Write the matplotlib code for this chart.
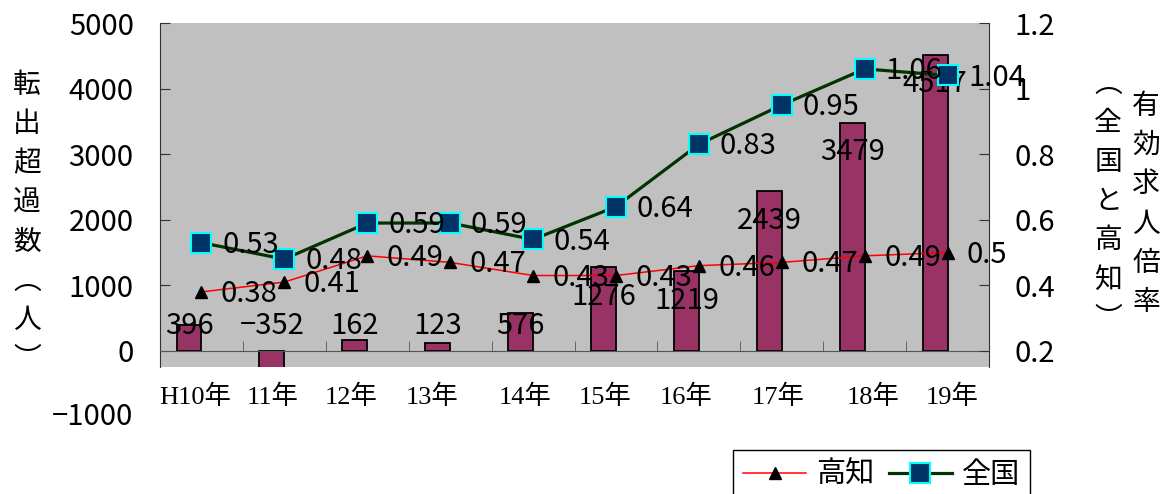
import matplotlib
matplotlib.use('Agg')
import matplotlib.pyplot as plt
import numpy as np

plt.rcParams['font.family'] = ['Noto Sans CJK JP', 'DejaVu Sans']

# data
years = ['H10年', '11年', '12年', '13年', '14年', '15年', '16年', '17年', '18年', '19年']
net_outflow = [396, -352, 162, 123, 576, 1276, 1219, 2439, 3479, 4517]   # 転出超過数（人）
kochi_ratio = [0.38, 0.41, 0.49, 0.47, 0.43, 0.43, 0.46, 0.47, 0.49, 0.5]  # 高知
zenkoku_ratio = [0.53, 0.48, 0.59, 0.59, 0.54, 0.64, 0.83, 0.95, 1.06, 1.04]  # 全国

# small shifts of the year labels (they sit a bit off the category centres)
label_shift = [-0.07, -0.14, -0.19, -0.22, -0.10, -0.13, -0.16, -0.04, 0.10, 0.06]

FS = 21

fig = plt.figure(figsize=(11.64, 4.94), dpi=100)
ax1 = fig.add_axes([160/1164, 1-367/494, 829/1164, 344/494])
ax1.set_facecolor('#c0c0c0')

x = np.arange(len(years))
ax1.bar(x - 0.15, net_outflow, width=0.3, color='#993366', edgecolor='black',
        linewidth=1.3, zorder=2)
ax1.set_xlim(-0.5, len(years) - 0.5)
ax1.set_ylim(-244, 5000)

ax1.spines['top'].set_visible(False)
ax1.spines['right'].set_visible(False)
ax1.spines['bottom'].set_position(('data', 0))
ax1.spines['bottom'].set_color('#555555')
ax1.spines['left'].set_color('#333333')

ax1.set_yticks(range(0, 5001, 1000))
ax1.tick_params(axis='y', direction='in', length=7, pad=19, labelsize=FS, color='#333333')
ax1.set_xticks(x + np.array(label_shift))
ax1.set_xticklabels(years, family=['Liberation Serif', 'Noto Sans CJK JP'], fontsize=19)
ax1.tick_params(axis='x', which='major', length=0, pad=24)
ax1.set_xticks(np.arange(0.5, len(years) - 0.5, 1), minor=True)
ax1.tick_params(axis='x', which='minor', direction='in', length=7, color='#555555')

# the -1000 label sits below the plot area
ax1.text(-27/829, -1000, '−1000', transform=ax1.get_yaxis_transform(),
         ha='right', va='center', fontsize=FS, clip_on=False)

# bar value labels
for i, v in enumerate(net_outflow):
    ax1.text(i - 0.15, max(v - 450, 380), str(v).replace('-', '−'),
             ha='center', va='center', fontsize=FS, zorder=3)

ax2 = ax1.twinx()
ax2.set_ylim(0.151, 1.2)
for s in ['top', 'bottom', 'left']:
    ax2.spines[s].set_visible(False)
ax2.spines['right'].set_color('#333333')
l1, = ax2.plot(x, kochi_ratio, color='red', lw=1.1, marker='^', ms=9,
               mfc='black', mec='black', label='高知')
l2, = ax2.plot(x, zenkoku_ratio, color='#003300', lw=2.3, marker='s', ms=14,
               mfc='#003366', mec='#00ffff', mew=1.5, label='全国')
ax2.set_yticks([0.2, 0.4, 0.6, 0.8, 1.0, 1.2])
ax2.set_yticklabels(['%g' % t for t in [0.2, 0.4, 0.6, 0.8, 1.0, 1.2]])
ax2.tick_params(axis='y', direction='in', length=7, pad=18, labelsize=FS, color='#333333')

for i, v in enumerate(kochi_ratio):
    ax2.annotate('%g' % v, (i, v), xytext=(14, -1.5), textcoords='offset points',
                 ha='left', va='center', fontsize=FS)
for i, v in enumerate(zenkoku_ratio):
    ax2.annotate('%g' % v, (i, v), xytext=(15, -1.5), textcoords='offset points',
                 ha='left', va='center', fontsize=FS)

# vertical axis titles
fig.text(27/1164, 1-222/494, '\n'.join('転出超過数︵人︶'), ha='center', va='center',
         fontsize=20, linespacing=1.4)
fig.text(1146/1164, 1-204/494, '\n'.join('有効求人倍率'), ha='center', va='center',
         fontsize=20, linespacing=1.4)
fig.text(1108/1164, 1-201/494, '\n'.join('︵全国と高知︶'), ha='center', va='center',
         fontsize=20, linespacing=1.4)

leg = fig.legend([l1, l2], ['高知', '全国'], loc='upper left',
                 bbox_to_anchor=(733/1164, 1-450/494), ncol=2, fontsize=FS,
                 frameon=True, fancybox=False, edgecolor='black', framealpha=1,
                 handlelength=2.15, handletextpad=0.35, columnspacing=0.5,
                 borderpad=0.35, borderaxespad=0)
leg.get_frame().set_linewidth(1.0)

fig.savefig('out.png', dpi=100)
